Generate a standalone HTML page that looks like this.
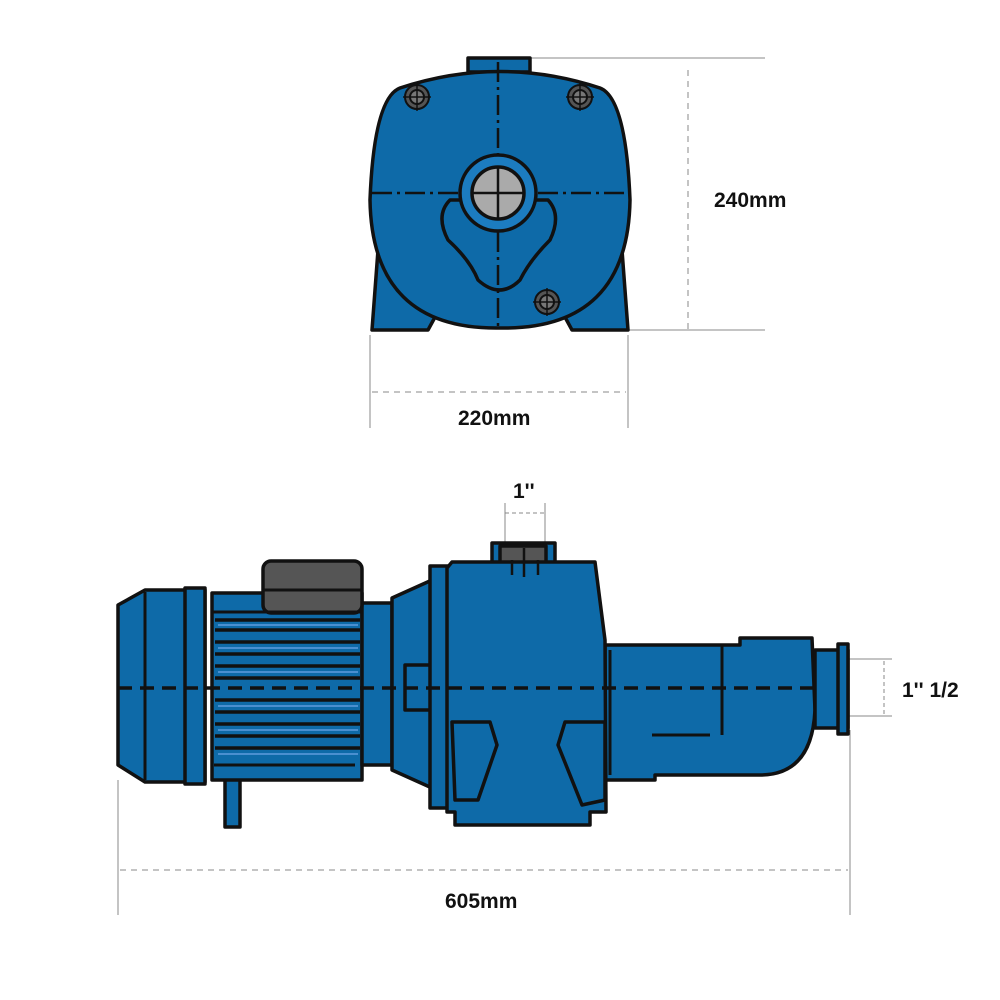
<!DOCTYPE html>
<html><head><meta charset="utf-8"><style>
html,body{margin:0;padding:0;background:#fff}
svg{display:block}
text{font-family:"Liberation Sans",sans-serif;font-weight:bold;font-size:21px;fill:#111}
</style></head><body>
<svg width="1000" height="1000" viewBox="0 0 1000 1000" xmlns="http://www.w3.org/2000/svg">
<g stroke="#888" stroke-width="1" fill="none">
 <line x1="530" y1="58" x2="765" y2="58"/>
 <line x1="628" y1="330" x2="765" y2="330"/>
 <line x1="688" y1="70" x2="688" y2="330" stroke-dasharray="6,5"/>
 <line x1="370" y1="335" x2="370" y2="428"/>
 <line x1="628" y1="335" x2="628" y2="428"/>
 <line x1="372" y1="392" x2="626" y2="392" stroke-dasharray="6,5"/>
 <line x1="505" y1="503" x2="505" y2="550"/>
 <line x1="545" y1="503" x2="545" y2="550"/>
 <line x1="505" y1="513" x2="545" y2="513" stroke-dasharray="4,3"/>
 <line x1="848" y1="659" x2="892" y2="659"/>
 <line x1="848" y1="716" x2="892" y2="716"/>
 <line x1="884" y1="661" x2="884" y2="714" stroke-dasharray="4,3"/>
 <line x1="118" y1="780" x2="118" y2="915"/>
 <line x1="850" y1="730" x2="850" y2="915"/>
 <line x1="120" y1="870" x2="848" y2="870" stroke-dasharray="6,5"/>
</g>
<text x="714" y="207">240mm</text>
<text x="458" y="425">220mm</text>
<text x="513" y="498">1''</text>
<text x="902" y="697">1'' 1/2</text>
<text x="445" y="908">605mm</text>

<!-- TOP VIEW -->
<g stroke="#111" stroke-width="3.5" fill="#0e6aa8" stroke-linejoin="round">
 <rect x="468" y="58" width="62" height="14"/>
 <path d="M378 250 L372 330 L428 330 L440 308 L398 250 Z"/>
 <path d="M622 250 L628 330 L572 330 L560 308 L602 250 Z"/>
 <path d="M400 88 Q500 55 600 88 Q626 98 630 200 Q628 330 500 328 Q372 330 370 200 Q374 98 400 88 Z"/>
 <path d="M450 200 Q435 215 448 240 Q470 260 478 280 Q500 300 520 280 Q530 260 550 240 Q562 215 548 200 Z"/>
 <circle cx="498" cy="193" r="38" fill="#1c7cc0"/>
 <circle cx="498" cy="193" r="26" fill="#aaa"/>
</g>
<g stroke="#111" stroke-width="2.5" fill="none">
 <line x1="472" y1="193" x2="524" y2="193"/><line x1="498" y1="167" x2="498" y2="219"/>
 <line x1="498" y1="62" x2="498" y2="155" stroke-dasharray="20,5,3,5"/>
 <line x1="498" y1="232" x2="498" y2="328" stroke-dasharray="20,5,3,5"/>
 <line x1="372" y1="193" x2="458" y2="193" stroke-dasharray="20,5,3,5"/>
 <line x1="538" y1="193" x2="628" y2="193" stroke-dasharray="20,5,3,5"/>
</g>
<g stroke="#111" stroke-width="2" fill="#555">
 <circle cx="417" cy="97" r="12"/><circle cx="580" cy="97" r="12"/><circle cx="547" cy="302" r="12"/>
 <circle cx="417" cy="97" r="7" fill="#777"/><circle cx="580" cy="97" r="7" fill="#777"/><circle cx="547" cy="302" r="7" fill="#777"/>
 <path d="M403 97h28M417 83v28M566 97h28M580 83v28M533 302h28M547 288v28" fill="none" stroke-width="1.5"/>
</g>

<!-- SIDE VIEW -->
<g stroke="#111" stroke-width="3.5" fill="#0e6aa8" stroke-linejoin="round">
 <rect x="225" y="775" width="15" height="52"/>
 <path d="M145 590 L205 590 L205 782 L145 782 L118 765 L118 605 Z"/>
 <rect x="185" y="588" width="20" height="196"/>
 <rect x="212" y="593" width="150" height="187"/>
 <rect x="362" y="603" width="30" height="162"/>
 <path d="M392 598 L432 580 L432 788 L392 770 Z"/>
 <rect x="405" y="665" width="30" height="45"/>
 <rect x="430" y="566" width="18" height="242"/>
 <rect x="492" y="543" width="63" height="24"/>
 <rect x="500" y="546" width="46" height="18" fill="#555"/>
 <path d="M605 645 L740 645 L740 638 L812 638 L815 710 Q812 775 760 775 L655 775 L655 780 L605 780 Z"/>
 <rect x="815" y="650" width="33" height="78"/>
 <rect x="838" y="644" width="10" height="90"/>
 <path d="M452 562 L595 562 L605 640 L606 812 L590 812 L590 825 L455 825 L455 812 L447 812 L447 568 Z"/>
 <path d="M452 722 L490 722 L497 745 L478 800 L455 800 Z"/>
 <path d="M565 722 L605 722 L605 800 L582 805 L558 745 Z"/>
 <rect x="263" y="561" width="99" height="52" rx="8" fill="#555"/>
</g>
<g stroke="#111" stroke-width="3">
 <line x1="263" y1="590" x2="362" y2="590"/>
 <line x1="212" y1="612" x2="362" y2="612"/>
 <line x1="214" y1="765" x2="355" y2="765"/>
 <line x1="145" y1="592" x2="145" y2="780"/>
 <line x1="610" y1="650" x2="610" y2="775"/>
 <line x1="722" y1="645" x2="722" y2="735"/>
 <line x1="652" y1="735" x2="710" y2="735"/>
</g>
<g stroke="#4a8fd0" stroke-width="2">
 <line x1="218" y1="625" x2="358" y2="625"/><line x1="218" y1="648" x2="358" y2="648"/>
 <line x1="218" y1="672" x2="358" y2="672"/><line x1="218" y1="706" x2="358" y2="706"/>
 <line x1="218" y1="730" x2="358" y2="730"/><line x1="218" y1="754" x2="358" y2="754"/>
</g>
<g stroke="#111" stroke-width="3.5">
 <line x1="215" y1="630" x2="360" y2="630"/><line x1="215" y1="642" x2="360" y2="642"/>
 <line x1="215" y1="654" x2="360" y2="654"/><line x1="215" y1="666" x2="360" y2="666"/>
 <line x1="215" y1="678" x2="360" y2="678"/><line x1="215" y1="700" x2="360" y2="700"/>
 <line x1="215" y1="712" x2="360" y2="712"/><line x1="215" y1="724" x2="360" y2="724"/>
 <line x1="215" y1="736" x2="360" y2="736"/><line x1="215" y1="748" x2="360" y2="748"/>
 <line x1="215" y1="620" x2="360" y2="620"/>
</g>
<line x1="118" y1="688" x2="820" y2="688" stroke="#111" stroke-width="3.5" stroke-dasharray="14,8"/>
<g stroke="#111" stroke-width="2.5">
 <line x1="512" y1="560" x2="512" y2="575"/><line x1="524" y1="548" x2="524" y2="577"/><line x1="538" y1="560" x2="538" y2="575"/>
</g>
</svg>
</body></html>
